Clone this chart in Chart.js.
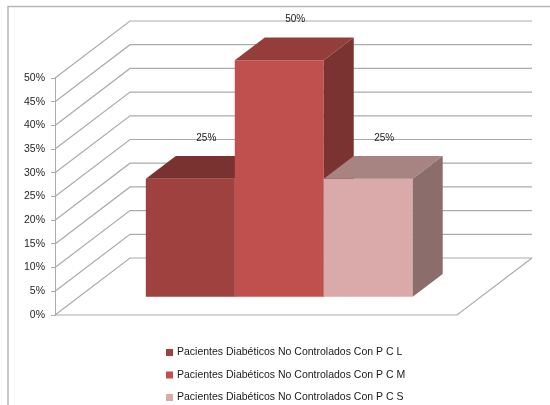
<!DOCTYPE html>
<html lang="es">
<head>
<meta charset="UTF-8">
<title>Pacientes Diabéticos No Controlados</title>
<script src="https://cdn.jsdelivr.net/npm/chart.js"></script>
<style>
  body { margin: 0; background: #fff; }
  #wrap { width: 550px; height: 405px; position: relative; }
</style>
</head>
<body>
<div id="wrap"><canvas id="chart"></canvas></div>
<script>
// data
const seriesNames = [
  'Pacientes Diabéticos No Controlados Con P C L',
  'Pacientes Diabéticos No Controlados Con P C M',
  'Pacientes Diabéticos No Controlados Con P C S'
];
const seriesValues = [25, 50, 25];
const seriesColors = ['#9E413F', '#C0504D', '#D9AAA9'];
const yTickValues = [0, 5, 10, 15, 20, 25, 30, 35, 40, 45, 50];

// 3d look
const DEPTH_X = 75, DEPTH_Y = 57;       // front wall -> back wall
const BAR_FRONT = 0.31, BAR_DEPTH = 0.4; // fractions of the depth
const GRID = '#ababab';
const FAMILY = '"Liberation Sans", Arial, sans-serif';

function shade(hex, f) {
  const n = parseInt(hex.slice(1), 16);
  const r = Math.round(((n >> 16) & 255) * f);
  const g = Math.round(((n >> 8) & 255) * f);
  const b = Math.round((n & 255) * f);
  return 'rgb(' + r + ',' + g + ',' + b + ')';
}

function poly(ctx, pts, fill) {
  ctx.beginPath();
  ctx.moveTo(pts[0][0], pts[0][1]);
  for (let i = 1; i < pts.length; i++) ctx.lineTo(pts[i][0], pts[i][1]);
  ctx.closePath();
  ctx.fillStyle = fill;
  ctx.fill();
}

const bars3d = {
  id: 'bars3d',
  beforeDatasetsDraw(chart) {
    const ctx = chart.ctx;
    const a = chart.chartArea;
    const y = chart.scales.y;

    // walls + floor
    ctx.save();
    ctx.strokeStyle = GRID;
    ctx.lineWidth = 1.2;
    yTickValues.forEach(v => {
      const py = y.getPixelForValue(v);
      ctx.beginPath();
      ctx.moveTo(a.left, py);
      ctx.lineTo(a.left + DEPTH_X, py - DEPTH_Y);
      ctx.lineTo(a.right + DEPTH_X, py - DEPTH_Y);
      ctx.stroke();
    });
    const y0 = y.getPixelForValue(0);
    ctx.beginPath();
    ctx.moveTo(a.left, y0);
    ctx.lineTo(a.right, y0);
    ctx.lineTo(a.right + DEPTH_X, y0 - DEPTH_Y);
    ctx.stroke();

    // bars, drawn left to right
    const fx = DEPTH_X * BAR_FRONT, fy = DEPTH_Y * BAR_FRONT;
    const dx = DEPTH_X * BAR_DEPTH, dy = DEPTH_Y * BAR_DEPTH;
    chart.data.datasets.forEach((ds, i) => {
      const meta = chart.getDatasetMeta(i);
      meta.data.forEach(el => {
        const l = el.x - el.width / 2 + fx, r = el.x + el.width / 2 + fx;
        const t = el.y - fy, b = el.base - fy;
        const col = ds.backgroundColor;
        poly(ctx, [[l, t], [r, t], [r, b], [l, b]], col);
        poly(ctx, [[l, t], [l + dx, t - dy], [r + dx, t - dy], [r, t]], shade(col, 0.77));
        poly(ctx, [[r, t], [r + dx, t - dy], [r + dx, b - dy], [r, b]], shade(col, 0.64));
      });
    });

    // value labels
    ctx.fillStyle = '#1a1a1a';
    ctx.font = '10px ' + FAMILY;
    ctx.textAlign = 'center';
    ctx.textBaseline = 'middle';
    chart.data.datasets.forEach((ds, i) => {
      chart.getDatasetMeta(i).data.forEach((el, j) => {
        ctx.fillText(ds.data[j] + '%', el.x + fx + 16, el.y - fy - 41);
      });
    });
    ctx.restore();
    return false;
  },
  afterDraw(chart) {
    const ctx = chart.ctx;
    ctx.save();
    // outer frame
    ctx.strokeStyle = '#b8b8b8';
    ctx.lineWidth = 1.5;
    ctx.strokeRect(8, 6.5, 600, 500);
    // legend
    ctx.font = '10.5px ' + FAMILY;
    ctx.textBaseline = 'middle';
    ctx.textAlign = 'left';
    chart.data.datasets.forEach((ds, i) => {
      const cy = 352.5 + i * 22.5;
      ctx.fillStyle = ds.backgroundColor;
      ctx.fillRect(166, cy - 3.5, 7, 7);
      ctx.fillStyle = '#1a1a1a';
      ctx.fillText(ds.label, 177, cy);
    });
    ctx.restore();
  }
};

new Chart(document.getElementById('chart'), {
  type: 'bar',
  data: {
    labels: [''],
    datasets: seriesNames.map((name, i) => ({
      label: name,
      data: [seriesValues[i]],
      backgroundColor: seriesColors[i],
      barPercentage: 1,
      categoryPercentage: 0.664
    }))
  },
  options: {
    responsive: true,
    maintainAspectRatio: false,
    animation: false,
    layout: { padding: { left: 18, right: 93, top: 78, bottom: 90 } },
    plugins: { legend: { display: false }, tooltip: { enabled: false } },
    scales: {
      x: { display: false },
      y: {
        min: 0,
        max: 50,
        afterBuildTicks: axis => { axis.ticks = yTickValues.map(v => ({ value: v })); },
        ticks: {
          callback: v => v + '%',
          font: { family: FAMILY, size: 10.5 },
          color: '#262626',
          padding: 6
        },
        grid: { drawOnChartArea: false, tickLength: 4, color: GRID },
        border: { color: GRID }
      }
    }
  },
  plugins: [bars3d]
});
</script>
</body>
</html>
